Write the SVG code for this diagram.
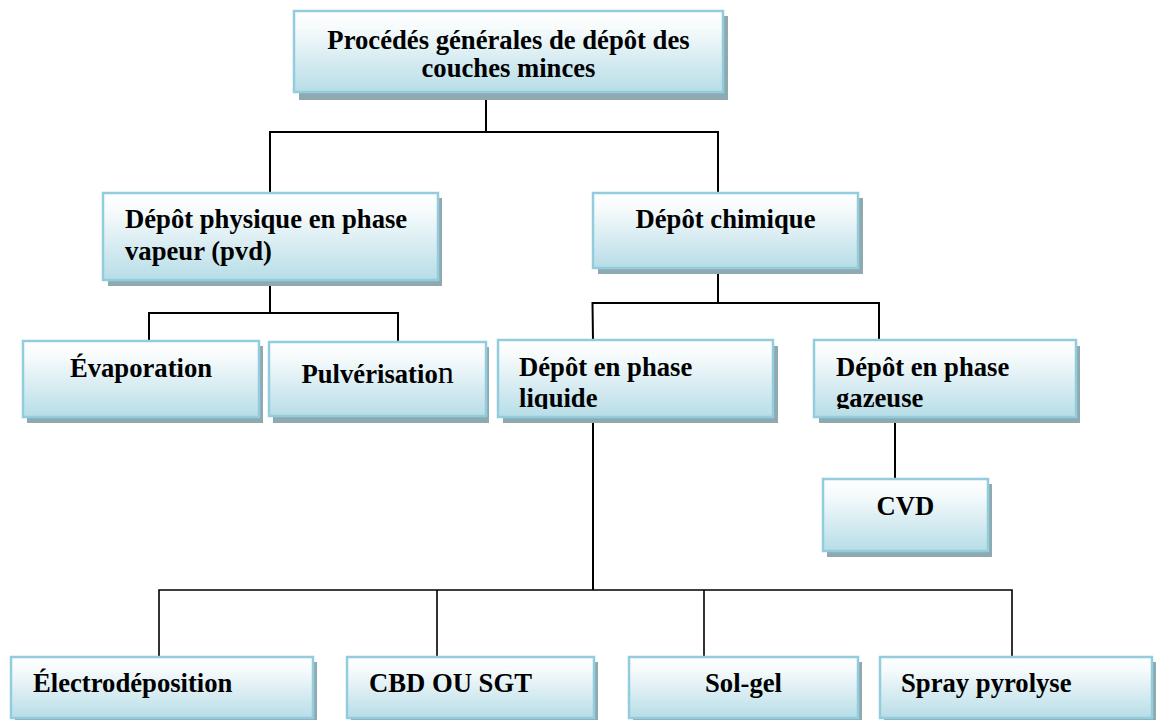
<svg xmlns="http://www.w3.org/2000/svg" width="1156" height="720" viewBox="0 0 1156 720">
<defs>
<linearGradient id="g" x1="0" y1="0" x2="0" y2="1">
<stop offset="0" stop-color="#ffffff"/>
<stop offset="0.2" stop-color="#f7fbfc"/>
<stop offset="1" stop-color="#b7dde7"/>
</linearGradient>
<clipPath id="clipLiq"><rect x="498" y="340" width="276" height="69"/></clipPath>
<clipPath id="clipGaz"><rect x="814" y="340" width="266" height="69"/></clipPath>
</defs>
<style>
.sh{fill:#8eaab0}
.bx{fill:url(#g);stroke:#93cddd;stroke-width:2.5}
.t{font-family:"Liberation Serif","Times New Roman",serif;font-weight:bold;font-size:26.67px;fill:#000}
.c{text-anchor:middle}
.ln{fill:none;stroke:#000;stroke-width:2}
.ln2{fill:none;stroke:#000;stroke-width:1.6}
</style>
<g id="connectors">
<path class="ln" d="M486,98 V132 M270,193 V132 H718 V193"/>
<path class="ln" d="M270,285 V313 M149,341 V313 H398 V342"/>
<path class="ln" d="M718,273 V303 M593,341 L592.5,303 H879 V341"/>
<path class="ln" d="M895,422 V479"/>
<path class="ln" d="M593,422 V590"/>
<path class="ln2" d="M159,657 V590 H1012 V657 M437,590 V657 M704,590 V657"/>
</g>
<g id="n-top">
<rect class="sh" x="299" y="16" width="429" height="84"/>
<rect class="bx" x="294" y="11" width="429" height="81"/>
<text class="t c" x="508.5" y="49">Procédés générales de dépôt des</text>
<text class="t c" x="508.5" y="77">couches minces</text>
</g>
<g id="n-pvd">
<rect class="sh" x="108" y="198" width="334" height="88"/>
<rect class="bx" x="103" y="193" width="335" height="87"/>
<text class="t" x="125" y="228">Dépôt physique en phase</text>
<text class="t" x="125" y="260">vapeur (pvd)</text>
</g>
<g id="n-chim">
<rect class="sh" x="598" y="198" width="265" height="76"/>
<rect class="bx" x="593" y="193" width="265" height="75"/>
<text class="t c" x="725.5" y="228">Dépôt chimique</text>
</g>
<g id="n-evap">
<rect class="sh" x="27" y="346" width="236" height="77"/>
<rect class="bx" x="23" y="341" width="236" height="76"/>
<text class="t c" x="141" y="377">Évaporation</text>
</g>
<g id="n-pulv">
<rect class="sh" x="273" y="347" width="216" height="76"/>
<rect class="bx" x="269" y="342" width="217" height="74"/>
<text class="t" x="301.5" y="383">Pulvérisatio<tspan font-weight="normal" font-size="32px">n</tspan></text>
</g>
<g id="n-liq">
<rect class="sh" x="503" y="346" width="275" height="77"/>
<rect class="bx" x="498" y="340" width="275" height="77"/>
<g clip-path="url(#clipLiq)">
<text class="t" x="519" y="376">Dépôt en phase</text>
<text class="t" x="519" y="407">liquide</text>
</g>
</g>
<g id="n-gaz">
<rect class="sh" x="819" y="346" width="261" height="77"/>
<rect class="bx" x="814" y="340" width="262" height="77"/>
<g clip-path="url(#clipGaz)">
<text class="t" x="836" y="376">Dépôt en phase</text>
<text class="t" x="836" y="407">gazeuse</text>
</g>
</g>
<g id="n-cvd">
<rect class="sh" x="827" y="484" width="165" height="73"/>
<rect class="bx" x="823" y="479" width="165" height="72"/>
<text class="t c" x="905.5" y="515">CVD</text>
</g>
<g id="n-electro">
<rect class="sh" x="15" y="662" width="302" height="62"/>
<rect class="bx" x="11" y="657" width="302" height="61"/>
<text class="t" x="33" y="692">Électrodéposition</text>
</g>
<g id="n-cbd">
<rect class="sh" x="351" y="662" width="247" height="62"/>
<rect class="bx" x="347" y="657" width="247" height="61"/>
<text class="t" x="369" y="692">CBD OU SGT</text>
</g>
<g id="n-solgel">
<rect class="sh" x="633" y="662" width="229" height="62"/>
<rect class="bx" x="629" y="657" width="229" height="61"/>
<text class="t c" x="743.5" y="692">Sol-gel</text>
</g>
<g id="n-spray">
<rect class="sh" x="884" y="662" width="272" height="62"/>
<rect class="bx" x="880" y="657" width="272" height="61"/>
<text class="t" x="901" y="692">Spray pyrolyse</text>
</g>
</svg>
